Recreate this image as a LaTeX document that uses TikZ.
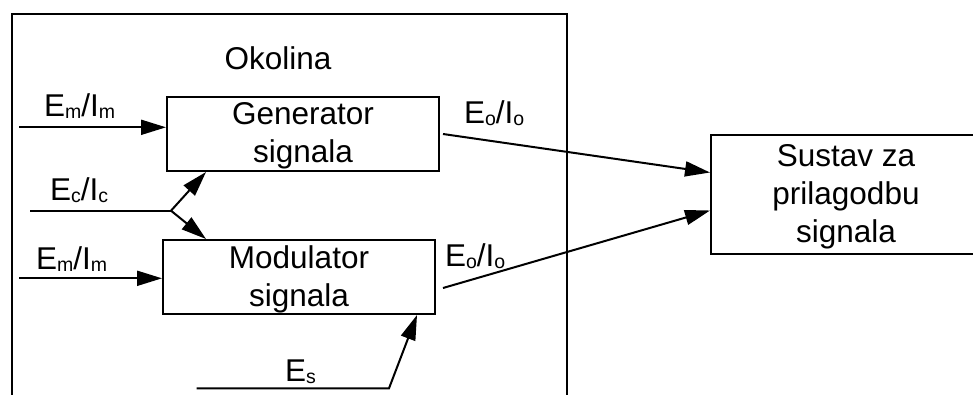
\documentclass[tikz,border=0pt]{standalone}
\usepackage{fontspec}
\setmainfont{Liberation Sans}
\usetikzlibrary{arrows.meta}
\newcommand\sbs[1]{\raisebox{-2pt}{\fontsize{19.5}{19.5}\selectfont #1}}
\begin{document}
\begin{tikzpicture}[x=1pt,y=-1pt, line width=2pt,
  box/.style={draw, rectangle, minimum width=272pt, minimum height=74pt, inner sep=0pt},
  txt/.style={font=\fontsize{31.5}{38}\selectfont, align=center, inner sep=0pt},
  lbl/.style={font=\fontsize{31.5}{38}\selectfont, inner sep=0pt, anchor=base west},
  arr/.style={-{Triangle[length=25pt,width=15pt]}}]
\useasboundingbox (0,0) rectangle (973,394);
\clip (0,0) rectangle (973,394);
% frame of the environment
\draw (12,400) -- (12,14) -- (566.7,14) -- (566.7,400);
\node[font=\fontsize{31.5}{38}\selectfont, anchor=base, inner sep=0pt] (okol) at (278,69) {Okolina};
% boxes
\node[box] (gen) at (303,134) {};
\node[txt] (gentxt) at ([yshift=-1.5pt]gen.center) {Generator\\signala};
\node[box] (mod) at (299,277) {};
\node[txt] (modtxt) at ([yshift=-2pt]mod.center) {Modulator\\signala};
\node[box, minimum width=300pt, minimum height=119pt] (sus) at (861,194.5) {};
\node[txt] (sustxt) at ([xshift=-15pt,yshift=-2pt]sus.center) {Sustav za\\prilagodbu\\signala};
% free ends
\coordinate (emA) at (19,127.3);
\coordinate (ecA) at (30.3,210.7);
\coordinate (ecB) at (171,210.7);
\coordinate (emB) at (19,278.3);
\coordinate (esA) at (196.7,388.3);
\coordinate (esB) at (389,388.3);
% connectors
\draw[arr] (emA) -- (emA -| gen.west);
\draw (ecA) -- (ecB);
\draw[arr] (ecB) -- ([xshift=40pt]gen.south west);
\draw[arr] (ecB) -- ([xshift=44pt]mod.north west);
\draw[arr] (emB) -- (emB -| mod.west);
\draw[arr] (esA) -- (esB) -- ([xshift=-19pt]mod.south east);
\draw[arr] ([xshift=3pt]gen.east) -- ([yshift=22pt]sus.west);
\draw[arr] ([xshift=7pt,yshift=-11pt]mod.east) -- ([yshift=-16pt]sus.west);
% labels
\node[lbl] (lEm1) at (43,116) {E\sbs{m}/I\sbs{m}};
\node[lbl] (lEc) at (49,200.7) {E\sbs{c}/I\sbs{c}};
\node[lbl] (lEm2) at (35,269) {E\sbs{m}/I\sbs{m}};
\node[lbl] (lEs) at (284,381) {E\sbs{s}};
\node[lbl] (lEo1) at (463,123) {E\sbs{o}/I\sbs{o}};
\node[lbl] (lEo2) at (444,266) {E\sbs{o}/I\sbs{o}};
\end{tikzpicture}
\end{document}
